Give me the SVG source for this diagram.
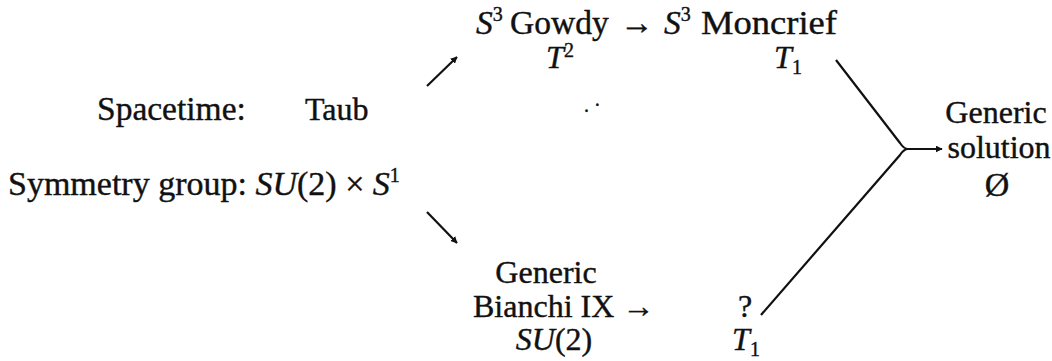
<svg xmlns="http://www.w3.org/2000/svg" width="1052" height="361" viewBox="0 0 1052 361">
<style>
text{font-family:"Liberation Serif","Times New Roman",serif;font-size:32px;fill:#111;stroke:#111;stroke-width:0.4}
.i{font-style:italic}
.c{text-anchor:middle}
.sup{font-size:20px}
.top{font-size:33.5px}
.left{font-size:33.5px}
.ln{stroke:#111;stroke-width:2.2;fill:none}
</style>
<defs>
<marker id="ah" viewBox="0 0 10 10" refX="9" refY="5" markerWidth="7" markerHeight="7" markerUnits="userSpaceOnUse" orient="auto"><path d="M0,0 L10,5 L0,10 Z" fill="#111"/></marker>
</defs>
<rect width="1052" height="361" fill="#fff"/>
<g id="labels">
<text x="97" y="120" class="left">Spacetime:</text>
<text x="8" y="195" style="font-size:34px">Symmetry group: <tspan class="i">SU</tspan>(2) × <tspan class="i">S</tspan><tspan class="sup" dy="-13">1</tspan></text>
</g>
<g id="taub"><text x="305" y="120">Taub</text></g>
<g id="gowdy">
<text x="476" y="34" class="top"><tspan class="i">S</tspan><tspan class="sup" dy="-13">3</tspan></text>
<text x="510" y="34" class="top">Gowdy</text>
<text x="560" y="68" class="c"><tspan class="i">T</tspan><tspan class="sup" dy="-11">2</tspan></text>
</g>
<g id="gowdy-arrow"><text x="620" y="34" class="top">→</text></g>
<g id="moncrief">
<text x="664" y="34" class="top"><tspan class="i">S</tspan><tspan class="sup" dy="-13">3</tspan></text>
<text x="701" y="34" class="top" textLength="136" lengthAdjust="spacingAndGlyphs">Moncrief</text>
<text x="788" y="68" class="c"><tspan class="i">T</tspan><tspan class="sup" dy="6">1</tspan></text>
</g>
<g id="dots"><text x="584" y="112" style="font-size:20px">. ·</text></g>
<g id="bianchi">
<text x="546" y="283" class="c">Generic</text>
<text x="473" y="317">Bianchi IX →</text>
<text x="554" y="350" class="c"><tspan class="i">SU</tspan>(2)</text>
</g>
<g id="unknown">
<text x="745" y="317" class="c">?</text>
<text x="746" y="350" class="c"><tspan class="i">T</tspan><tspan class="sup" dy="6">1</tspan></text>
</g>
<g id="generic">
<text x="996" y="123" class="c">Generic</text>
<text x="999" y="158" class="c">solution</text>
<text x="997" y="196" class="c" style="font-size:34px">Ø</text>
</g>
<g id="connectors">
<line class="ln" x1="427" y1="86" x2="457" y2="57" marker-end="url(#ah)"/>
<line class="ln" x1="427" y1="212" x2="457" y2="243" marker-end="url(#ah)"/>
<path class="ln" d="M836,60 L900,143 Q904,149 908,149"/>
<path class="ln" d="M761,315 L900,155 Q904,149 908,149"/>
<line class="ln" x1="906" y1="149" x2="942" y2="149" marker-end="url(#ah)"/>
</g>
</svg>
